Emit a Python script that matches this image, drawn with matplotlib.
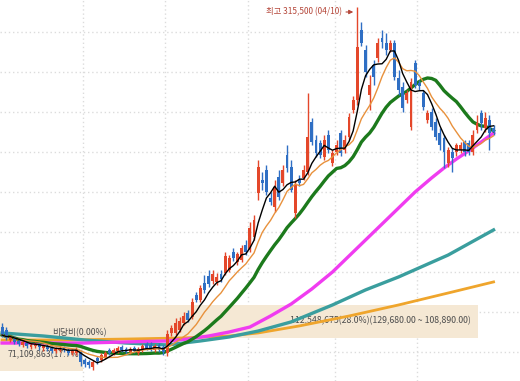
import numpy as np
import pandas as pd
import matplotlib
matplotlib.use('Agg')
import matplotlib.pyplot as plt

plt.rcParams['font.family'] = ['Noto Sans CJK KR', 'DejaVu Sans']

# daily candles (won)
opens = [115600, 113800, 107500, 108800, 106900, 104400, 105600, 103100, 103800, 105000,
         102500, 103800, 102500, 100600, 101300, 102500, 101300, 99400, 99400, 100000,
         95000, 93800, 90600, 96300, 95000, 96900, 101300, 99400, 100600, 103100,
         101900, 100000, 102500, 99400, 101300, 105000, 104400, 101300, 104400, 103100,
         99400, 111900, 111900, 113800, 118100, 124400, 121900, 135600, 132500, 143100,
         147500, 144400, 143800, 148800, 149400, 151300, 162500, 156300, 157500, 166900,
         163800, 171900, 199400, 207500, 213800, 196300, 190600, 209400, 205600, 223100,
         215600, 186900, 207500, 208800, 212500, 243800, 232500, 230600, 221900, 235600,
         218100, 225000, 236900, 226300, 234400, 251300, 257500, 301300, 288800, 260600,
         279400, 283800, 296300, 293100, 288800, 293100, 271300, 265600, 257500, 240600,
         280600, 268100, 261900, 245000, 250000, 243800, 236900, 233800, 218100, 225000,
         225000, 226300, 231300, 230600, 225000, 238800, 249400, 240000, 245000, 240000]
highs = [118100, 115600, 110600, 110000, 108100, 107500, 106900, 105600, 106300, 106300,
         105000, 105000, 103800, 103100, 103800, 103800, 102500, 101900, 103100, 101300,
         96300, 95000, 95000, 97500, 99400, 100600, 102500, 102500, 103800, 104400,
         103100, 103100, 103800, 103100, 105000, 106300, 106300, 105000, 105600, 104400,
         113800, 116900, 121300, 121900, 125000, 126300, 133800, 137500, 141900, 148100,
         151300, 151300, 149400, 151300, 162500, 160600, 165000, 162500, 166900, 170000,
         181300, 185600, 220000, 212500, 216900, 200000, 207500, 213800, 216900, 229400,
         220000, 207500, 210600, 216900, 261900, 246300, 235600, 232500, 235600, 238800,
         226300, 232500, 238800, 235600, 249400, 260000, 315500, 306300, 291900, 273100,
         282500, 296300, 301300, 299400, 295000, 295000, 276300, 268800, 263800, 271300,
         282500, 270000, 263800, 251300, 252500, 246300, 240000, 235600, 228100, 227500,
         230600, 231300, 232500, 232500, 238800, 248100, 251300, 250000, 248100, 241900]
lows = [109400, 107500, 106300, 105000, 103800, 103100, 102500, 101900, 102500, 101300,
        100600, 100600, 99400, 99400, 100000, 100000, 98100, 98100, 98100, 91300,
        90600, 90000, 88800, 92500, 93800, 95600, 98100, 98100, 99400, 100000,
        98800, 98800, 99400, 98100, 100000, 101300, 100600, 100000, 100000, 98100,
        97500, 110000, 110600, 112500, 116900, 118800, 120600, 131300, 131300, 136900,
        140600, 142500, 141900, 143800, 148100, 150000, 156900, 154400, 156300, 160600,
        162500, 170000, 195000, 201300, 198100, 191900, 187500, 195000, 203800, 212500,
        200000, 183800, 203800, 207500, 210600, 229400, 221900, 221300, 220000, 224400,
        216300, 223100, 222500, 224400, 232500, 249400, 254400, 291300, 271900, 251300,
        266900, 281300, 290000, 285600, 287500, 270000, 260600, 250000, 255600, 238800,
        265000, 263800, 251300, 243100, 238800, 232500, 226300, 215000, 215600, 212500,
        222500, 224400, 222500, 223100, 223100, 236900, 238800, 237500, 226300, 235600]
closes = [110600, 108800, 109400, 106300, 105000, 106300, 103800, 104400, 105000, 103100,
          103800, 101900, 100600, 101900, 102500, 101300, 99400, 100600, 101900, 93800,
          92500, 91900, 93800, 94400, 98100, 99400, 99400, 101300, 102500, 101300,
          100000, 101900, 100600, 101900, 103800, 102500, 101900, 103800, 101300, 100000,
          111300, 115000, 118100, 119400, 122500, 120000, 131300, 132500, 140000, 138800,
          142500, 148800, 146900, 145600, 160000, 158800, 158800, 161300, 165000, 162500,
          177500, 182500, 215600, 205600, 200000, 193800, 203100, 196900, 213800, 215000,
          201300, 204400, 205600, 213800, 234400, 231300, 224400, 223100, 232500, 226300,
          224400, 229400, 224400, 232500, 246900, 257500, 290600, 293100, 275000, 266900,
          271900, 293100, 293800, 288800, 293100, 271900, 263800, 252500, 261900, 268800,
          266900, 266300, 253100, 249400, 240600, 234400, 229400, 225000, 226300, 221300,
          229400, 229400, 225000, 225000, 235600, 243100, 243100, 246300, 236900, 237500]

# short moving averages come from the closes
ma_windows = [20, 10, 5]
ma_colors = ['#1c7a1c', '#e8913c', 'black']
ma_widths = [2.4, 1.0, 1.0]

# 60 / 120 / 240 day lines (their history is off screen), read at a few days
ma60_idx = [0, 10, 20, 30, 40, 45, 50, 55, 60, 65, 70, 75, 80, 85, 88, 92, 95, 100,
            104, 107, 110, 114, 119]
ma60_val = [105600, 105600, 105600, 106300, 106900, 108100, 110000, 112500, 115600,
            122500, 130000, 139400, 150000, 162500, 170000, 180000, 187500, 200000,
            208800, 215000, 220600, 227500, 236900]
ma120_idx = [0, 10, 20, 30, 40, 48, 55, 62, 70, 80, 88, 96, 108, 119]
ma120_val = [111900, 110000, 107500, 105600, 104400, 106900, 109400, 113100,
             118800, 129400, 138800, 146900, 160600, 176300]
ma240_idx = [0, 15, 30, 44, 55, 62, 72, 84, 96, 109, 119]
ma240_val = [107500, 107500, 108100, 108800, 110000, 111900, 116300, 122500,
             129400, 137500, 143800]

month_starts = [20, 40, 60, 81, 101]
grid_prices = np.arange(100000, 300001, 25000)

band_lo, band_hi = 108890, 129680
band2_lo = 88100
band_text = '112,548,675(28.0%)(129,680.00 ~ 108,890.00)'
band2_text = '71,109,863(17.7%)'
zero_text = '비당비(0.00%)'
high_date = '04/10'

red = '#e4472a'
blue = '#2f6fc4'

df = pd.DataFrame({'open': opens, 'high': highs, 'low': lows, 'close': closes})
x = np.arange(len(df))

fig = plt.figure(figsize=(5.2, 3.81), dpi=100)
ax = fig.add_axes([0, 0, 1, 1])
ax.set_xlim(-0.5, 125.4)
ax.set_ylim(81875, 320000)
ax.axis('off')

# dotted grid
for p in grid_prices:
    ax.axhline(p, color='#dcdcdc', lw=1, ls=(0, (1, 2)), zorder=0)
for m in month_starts:
    ax.axvline(m - 0.5, color='#dcdcdc', lw=1, ls=(0, (1, 2)), zorder=0)

# volume-at-price bands
ax.axhspan(band_lo, band_hi, xmin=0, xmax=0.92, color='#f5e8d4', zorder=0.5, lw=0)
ax.axhspan(band2_lo, band_lo, xmin=0, xmax=0.16, color='#f5e8d4', zorder=0.5, lw=0)
ax.text(69.8, (band_lo + band_hi) / 2, band_text, fontsize=6.3, color='#4d4d4d',
        va='center', ha='left', zorder=1)
ax.text(1.4, (band2_lo + band_lo) / 2, band2_text, fontsize=6.3, color='#4d4d4d',
        va='center', ha='left', zorder=1)
ax.text(12.2, 111900, zero_text, fontsize=6.3, color='#4d4d4d', va='center',
        ha='left', zorder=1)

# long averages
ax.plot(ma240_idx, ma240_val, color='#efa52c', lw=2, zorder=2)
ax.plot(ma120_idx, ma120_val, color='#3a9e9e', lw=2.4, zorder=2)
ax.plot(ma60_idx, ma60_val, color='#f03cf0', lw=2.4, zorder=2)

# candles
up = df['close'] >= df['open']
cols = np.where(up, red, blue)
ax.vlines(x, df['low'], df['high'], colors=cols, lw=1, zorder=3)
body = (df['close'] - df['open']).abs().clip(lower=400)
ax.bar(x, body, bottom=df[['open', 'close']].min(axis=1), width=0.7,
       color=cols, zorder=3, lw=0)

for w, c, lw in zip(ma_windows, ma_colors, ma_widths):
    ma = df['close'].rolling(w, min_periods=1).mean()
    ax.plot(x, ma, color=c, lw=lw, zorder=2 if lw > 2 else 4)

# highest price marker
top = df['high'].idxmax()
ax.annotate('', xy=(top - 0.3, df['high'][top] - 3000), xytext=(top - 3.4, df['high'][top] - 3000),
            arrowprops=dict(arrowstyle='-|>', color='#b5473a', lw=0.8, mutation_scale=6))
ax.text(top - 3.7, df['high'][top] - 3000, '최고 {:,} ({})'.format(df['high'][top], high_date),
        fontsize=6, color='#b5473a', ha='right', va='center')

fig.savefig('out.png', dpi=100)
